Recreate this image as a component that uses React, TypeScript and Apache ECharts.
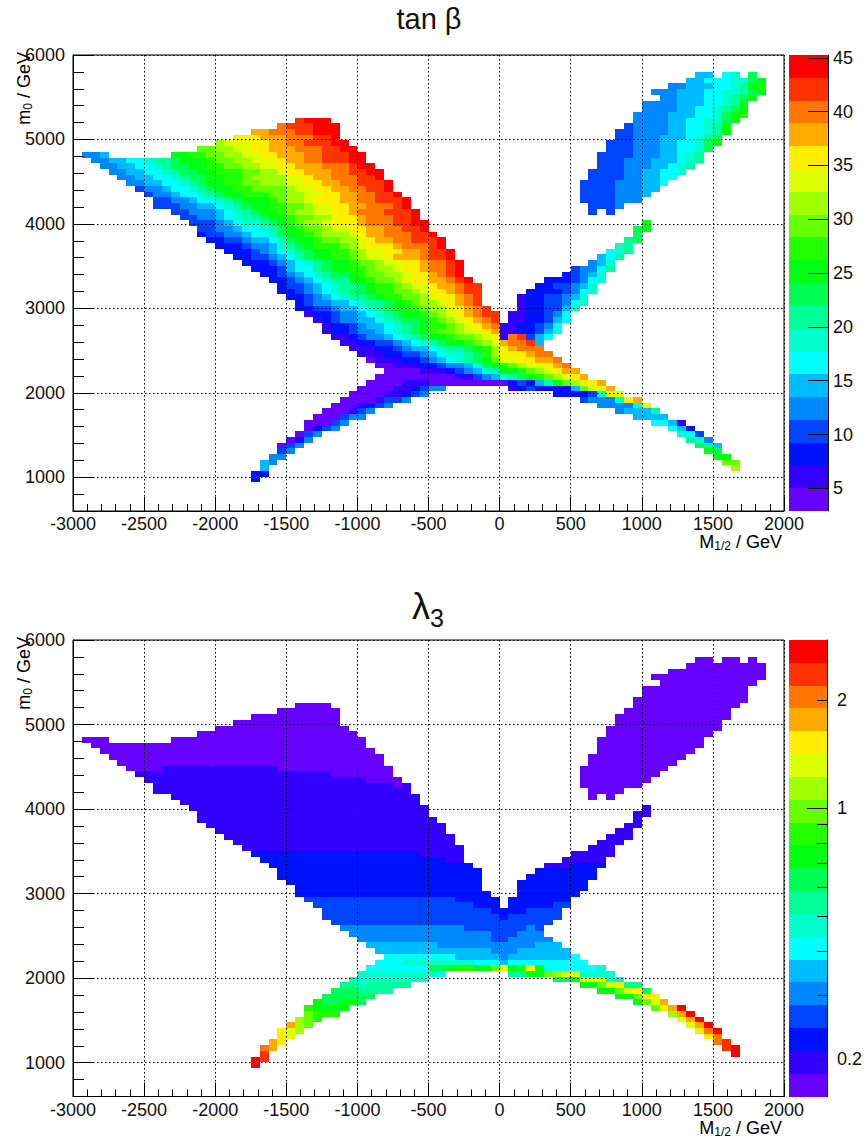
import React, { useEffect, useRef } from "react";
import * as echarts from "echarts";

// Bin layout of both 2D histograms
const X_MIN = -3000;
const X_MAX = 2000;
const Y_MIN = 600;
const Y_MAX = 6000;
const BIN_X = 62.5;
const BIN_Y = 67.5;

const xMajorStep = 500;
const yLabels = [1000, 2000, 3000, 4000, 5000, 6000];
const yMinor = [800, 1200, 1400, 1600, 1800, 2200, 2400, 2600, 2800, 3200, 3400, 3600, 3800, 4200, 4400, 4600, 4800, 5200, 5400, 5600, 5800];

// 20 colour levels, a (lowest) .. t (highest)
const palette = ["#6600ff", "#3300ff", "#0011ff", "#0044ff", "#0088ff", "#00bbff", "#00ffff", "#00ffcc", "#00ff99", "#00ff55", "#00ff11", "#22ff00", "#66ff00", "#a0ff00", "#ddff00", "#ffee00", "#ffaa00", "#ff7700", "#ff3300", "#ff0000"];

const tanBetaBarRange = [2.9, 45.26];
const tanBetaTicks = [5, 10, 15, 20, 25, 30, 35, 40, 45];
const lambdaBarRange = [0.157, 2.94];
const lambdaMinorTicks = [0.2, 0.3, 0.4, 0.5, 0.6, 0.7, 0.8, 0.9, 2];
const lambdaMajorTicks = [1];
const lambdaLabels = [0.2, 1, 2];

// Each entry: [row, first column, level letters with optional repeat counts]
type Row = [number, number, string];

const tanBetaUpperWing: Row[] = [
  [76, 70, "ff"], [76, 73, "gh"], [76, 76, "j"],
  [75, 69, "ffggghhjk"], [74, 67, "eefffgghikl"], [73, 65, "eeefffgghhijk"], [72, 66, "eefffgghijk"],
  [71, 64, "eeeefffgghik"], [70, 64, "eeeeffgghijk"], [69, 63, "eeeefffgghjkl"], [68, 63, "eeeeffgghhjk"],
  [67, 62, "deeeeffgghik"], [66, 61, "ddeeeeffgghik"], [65, 61, "ddeeefffghij"], [64, 60, "dddeeeffgghjk"],
  [63, 60, "dddeeeffgghj"], [62, 59, "ddddeeeffghi"], [61, 59, "dddeeefffghi"], [60, 59, "dddeeeffghi"],
  [59, 58, "ddddeeffggh"], [58, 58, "ddddeeffgg"], [57, 57, "ddddeeeffg"], [56, 57, "ddddeeeff"],
  [55, 57, "ddddeeef"], [54, 57, "ddddeee"], [53, 58, "ddde"], [52, 58, "d"], [52, 60, "d"],
];

const tanBetaMainWedge: Row[] = [
  [68, 25, "sttt"], [67, 23, "rsssttt"], [66, 20, "qqrrrssttt"], [65, 18, "pppqqqrrrsst"],
  [64, 16, "noooppqqrrssstt"], [63, 14, "mmnnooppqqqrrrsstt"],
  [62, 1, "eef"], [62, 11, "kkllmmnnooppqqqrrssstt"],
  [61, 2, "eeffgghiijkkklmmnnooppqqrrssstt"],
  [60, 3, "eeffgghijjkkllmmnnooppqqqrrrstt"],
  [59, 4, "eeffgghijjkklllmmnnoppqqqrrsstt"],
  [58, 5, "eeffgghijjkkllmnnnnoopqqrrrsst"],
  [57, 6, "eeffgghijkkllmmnnnooppqqrrssst"],
  [56, 7, "deefgghijkkllmmmmnooppqqrrsst"],
  [55, 8, "deefgghijkklllmmnnooppqqrrsst"],
  [54, 9, "ddeefgghijkkklmnnopppqqrrssst"],
  [53, 9, "dddeeffghijkkllmmnoopp qqrrrst"],
  [52, 11, "ddeeefghijkklmnnooppqrrrssst"],
  [51, 12, "ddeefghhijkklmmnnoppqrrrsst"],
  [50, 13, "dddefghhijklmnnopppqrrrsstt"],
  [49, 14, "ddeefgghijklmmnooppqqrrsst"],
  [48, 14, "cddeefgghjkklmnnnopqqrrrsst"],
  [47, 15, "ccddeffghjkklmmnnopqqrrssst"],
  [46, 16, "cccdeefhijklllmnopppqrrrst"],
  [45, 17, "cccdefghijkkllmnooppqqrsst"],
  [44, 18, "ccddefgijkkllmnoopqqqrsst"],
  [43, 19, "cccdefghijkklmmnooppqrrst"],
  [42, 20, "cccdfggijkkllmnnoppqrrst"],
  [41, 21, "ccdefghijjklmmnnoppqrst"],
  [40, 22, "ccdefghiikklmmnoppqqrst"],
  [39, 23, "cddefghiijkllmnoopqqrss"],
  [38, 23, "ccdefghijjkllmmnoppqrss"],
  [37, 24, "ccdefghiijkllmmnoppqrs"],
  [36, 25, "cdeeffghiijklmnnopqrs"],
  [35, 25, "ccddeffghijkklmnnopqrs"],
];

const tanBetaCentreWing: Row[] = [
  [50, 64, "k"], [49, 63, "jk"], [48, 63, "j"], [47, 62, "ij"], [46, 61, "hi"], [45, 60, "ghi"],
  [44, 59, "fgi"], [43, 58, "efh"], [42, 56, "deegi"], [41, 55, "cdefh"], [40, 53, "cccdegh"],
  [39, 52, "ccddefh"], [38, 51, "ccccdegh"], [37, 50, "bccddefh"], [36, 50, "bccddegh"], [35, 50, "bccddfh"],
  [34, 49, "bbccdeg"], [33, 49, "bbccdfg"],
];

const tanBetaLowerBody: Row[] = [
  [34, 26, "bccdeefghijkklmnopqrss"], [33, 27, "bcdeeffghijjklmnopqrs"],
  [32, 28, "bccdeffghijkllmnopqrbbccdeg"], [31, 28, "bccdeefghijklmmnoopqbbccdfh"],
  [30, 29, "bbcdeefghijkklmmnopbrsdfg"], [29, 30, "bbccddefghijkklmnoqrrsf"],
  [28, 31, "bbbccdeffghiijklnpqrrr"], [27, 32, "bbbccddefghhijlnpppqrr"],
  [26, 33, "abbbccdefghijkmoopp qqr"], [25, 34, "aabbbccdeefhjklmnoopqr"],
  [24, 35, "aaaabbbcdefhikklmnopqq"], [23, 34, "9abbdefhijklmnopq"],
  [22, 33, "aaaabbb9acdcfikmnppq"], [21, 32, "aaaabbcdee"], [21, 49, "bcdccccfmooq"],
  [20, 31, "aaaabbcde"], [20, 54, "ccccdhoo"], [19, 30, "aaaabdde"], [19, 57, "deeehpq"],
];

const tanBetaTails: Row[] = [
  [18, 29, "aaabcde"], [18, 59, "eeeehp"], [17, 28, "aaabde"], [17, 61, "efffi"],
  [16, 27, "aaadee"], [16, 63, "ffff"], [15, 26, "aaade"], [15, 65, "ggfb"],
  [14, 26, "acde"], [14, 67, "gfc"], [13, 25, "ade"], [13, 68, "hgd"],
  [12, 24, "ace"], [12, 69, "ihe"], [11, 23, "ade"], [11, 70, "jif"],
  [10, 23, "de"], [10, 71, "kj"], [9, 22, "ee"], [9, 72, "kk"],
  [8, 21, "fe"], [8, 73, "mm"], [7, 21, "f"], [7, 74, "n"], [6, 20, "cc"], [5, 20, "c"],
];

const lambdaUpperWing: Row[] = [
  [76, 70, "2a"], [76, 73, "2a"], [76, 76, "a"], [75, 69, "9a"], [74, 67, "11a"], [73, 65, "13a"],
  [72, 66, "11a"], [71, 64, "12a"], [70, 64, "12a"], [69, 63, "13a"], [68, 63, "12a"], [67, 62, "12a"],
  [66, 61, "13a"], [65, 61, "12a"], [64, 60, "13a"], [63, 60, "12a"], [62, 59, "12a"], [61, 59, "12a"],
  [60, 59, "11a"], [59, 58, "11a"], [58, 58, "10a"], [57, 57, "10a"], [56, 57, "9a"], [55, 57, "8a"],
  [54, 57, "7a"], [53, 58, "4a"], [52, 58, "a"], [52, 60, "a"],
];

const lambdaMainWedge: Row[] = [
  [68, 25, "4a"], [67, 23, "7a"], [66, 20, "10a"], [65, 18, "12a"], [64, 16, "15a"], [63, 14, "18a"],
  [62, 1, "3a"], [62, 11, "22a"], [61, 2, "31a"], [60, 3, "31a"], [59, 4, "31a"], [58, 5, "30a"],
  [57, 6, "4a13b13a"], [56, 7, "22b7a"], [55, 8, "25b4a"], [54, 9, "27bab"], [53, 9, "29b"],
  [52, 11, "28b"], [51, 12, "27b"], [50, 13, "27b"], [49, 14, "26b"], [48, 14, "27b"], [47, 15, "27b"],
  [46, 16, "26b"], [45, 17, "26b"], [44, 18, "25b"], [43, 19, "25b"], [42, 20, "19c5b"], [41, 21, "21c2b"],
  [40, 22, "23c"], [39, 23, "23c"], [38, 23, "23c"], [37, 24, "22c"], [36, 25, "21c"], [35, 25, "22c"],
];

const lambdaCentreWing: Row[] = [
  [50, 64, "b"], [49, 63, "2b"], [48, 63, "b"], [47, 62, "2b"], [46, 61, "2b"], [45, 60, "3b"],
  [44, 59, "3b"], [43, 58, "3b"], [42, 56, "5b"], [41, 55, "5b"], [40, 53, "3b4c"], [39, 52, "7c"],
  [38, 51, "8c"], [37, 50, "8c"], [36, 50, "8c"], [35, 50, "7c"], [34, 49, "7c"], [33, 49, "5c2d"],
];

const lambdaLowerBody: Row[] = [
  [34, 26, "17d5c"], [33, 27, "18d3c"], [32, 28, "19d4c4d"], [31, 28, "20dc6d"], [30, 29, "25d"],
  [29, 30, "14e7ded"], [28, 31, "16e3d3e"], [27, 32, "15e2d5e"], [26, 33, "8f11e3f"], [25, 34, "13f3e6f"],
  [24, 35, "8g5fe7fg"], [23, 34, "3g8h3gf9g"], [22, 33, "7gjjkllkkmoklpk6gh"], [21, 32, "9hg"], [21, 49, "2i2kmn2o4h"],
  [20, 31, "9h"], [20, 54, "2jk3o2h"], [19, 30, "2ih5i"], [19, 57, "2kmop2i"],
];

const lambdaTails: Row[] = [
  [18, 29, "3j4i"], [18, 59, "2kmopj"], [17, 28, "6j"], [17, 61, "2km2p"], [16, 27, "kjjkkj"], [16, 63, "kmoq"],
  [15, 26, "lkkkk"], [15, 65, "moqt"], [14, 26, "mlll"], [14, 67, "nqt"], [13, 25, "nml"], [13, 68, "oqt"],
  [12, 24, "qnm"], [12, 69, "oqt"], [11, 23, "pon"], [11, 70, "prt"], [10, 23, "po"], [10, 71, "pr"],
  [9, 22, "qp"], [9, 72, "rs"], [8, 21, "rq"], [8, 73, "st"], [7, 21, "s"], [7, 74, "t"], [6, 20, "ts"], [5, 20, "t"],
];

function cellsFrom(groups: Row[][]) {
  const cells: number[][] = [];
  for (const rows of groups) {
    for (const [row, first, code] of rows) {
      let col = first;
      for (const m of code.replace(/\s/g, "").matchAll(/(\d*)([a-t])/g)) {
        const n = m[1] ? Number(m[1]) : 1;
        for (let k = 0; k < n; k++) {
          cells.push([X_MIN + col * BIN_X, Y_MIN + row * BIN_Y, m[2].charCodeAt(0) - 97]);
          col++;
        }
      }
    }
  }
  return cells;
}

const FONT = "Liberation Sans";
const INK = "#111";

const renderCell = (_: any, api: any) => {
  const x0 = api.value(0);
  const y0 = api.value(1);
  const a = api.coord([x0, y0]);
  const b = api.coord([x0 + BIN_X, y0 + BIN_Y]);
  const left = Math.round(a[0]);
  const right = Math.round(b[0]);
  const top = Math.round(b[1]);
  const bottom = Math.round(a[1]);
  return { type: "rect", shape: { x: left, y: top, width: right - left, height: bottom - top }, style: { fill: palette[api.value(2)] } };
};

const renderBand = (_: any, api: any) => {
  const a = api.coord([0, api.value(0)]);
  const b = api.coord([1, api.value(1)]);
  const top = Math.round(b[1]);
  const bottom = Math.round(a[1]);
  return { type: "rect", shape: { x: a[0], y: top, width: b[0] - a[0], height: bottom - top }, style: { fill: palette[api.value(2)] } };
};

const label = { fontFamily: FONT, fontSize: 18, color: INK };
const dotted = { show: true, lineStyle: { color: "#000", width: 1, type: [1.5, 2.5] as any } };

function panelAxes(grid: number) {
  const x = {
    type: "value", gridIndex: grid, min: X_MIN, max: X_MAX, interval: xMajorStep, z: 3,
    axisLine: { show: true, onZero: false, lineStyle: { color: "#000", width: 1 } },
    axisTick: { show: true, inside: true, length: 14, lineStyle: { color: "#000" } },
    minorTick: { show: true, splitNumber: 5, length: 7, lineStyle: { color: "#000" } },
    axisLabel: { ...label, margin: 4, formatter: (v: number) => String(v) },
    splitLine: dotted, minorSplitLine: { show: false },
  };
  const y = {
    type: "value", gridIndex: grid, min: Y_MIN, max: Y_MAX, splitNumber: 5, z: 3, position: "left",
    axisLine: { show: true, onZero: false, lineStyle: { color: "#000", width: 1 } },
    axisTick: { show: true, inside: true, length: 20, customValues: yLabels, lineStyle: { color: "#000" } },
    axisLabel: { ...label, margin: 8, customValues: yLabels, formatter: (v: number) => String(v) },
    splitLine: dotted,
  };
  const yMinorAxis = {
    type: "value", gridIndex: grid, min: Y_MIN, max: Y_MAX, z: 3, position: "left",
    axisLine: { show: false, onZero: false }, axisLabel: { show: false }, splitLine: { show: false },
    axisTick: { show: true, inside: true, length: 11, customValues: yMinor, lineStyle: { color: "#000" } },
  };
  return { x, y, yMinorAxis };
}

const hiddenX = (grid: number) => ({ type: "value", gridIndex: grid, min: 0, max: 1, show: false });

const bandsFor = (lo: number, hi: number, log: boolean) =>
  palette.map((_, k) => {
    const edge = (t: number) => (log ? lo * Math.pow(hi / lo, t) : lo + (hi - lo) * t);
    return [edge(k / palette.length), edge((k + 1) / palette.length), k];
  });

export default function App() {
  const ref = useRef<HTMLDivElement>(null);
  useEffect(() => {
    const chart = echarts.init(ref.current!, undefined, { renderer: "svg" });
    const p1 = panelAxes(0);
    const p2 = panelAxes(2);
    const subRich = {
      m: { fontFamily: FONT, fontSize: 18, color: INK, lineHeight: 16 },
      s: { fontFamily: FONT, fontSize: 12, color: INK, lineHeight: 16, padding: [7, 0, 0, 0] },
    };
    const axisTitle = (y: number, x: number) => [
      { type: "text", x: 782, y: x, style: { text: "{m|M}{s|1/2}{m| / GeV}", rich: subRich, align: "right", verticalAlign: "middle" } },
      { type: "text", x: 24, y: y, rotation: Math.PI / 2, style: { text: "{m|m}{s|0}{m| / GeV}", rich: subRich, align: "right", verticalAlign: "middle" } },
    ];
    chart.setOption({
      animation: false,
      backgroundColor: "#fff",
      title: [
        { text: "tan β", left: 424, top: -1, textAlign: "center", textStyle: { fontFamily: FONT, fontSize: 29, fontWeight: "normal", color: INK } },
        {
          text: "{l|λ}{s|3}", left: 423, top: 578, textAlign: "center",
          textStyle: {
            rich: {
              l: { fontFamily: FONT, fontSize: 36, fontWeight: "normal", color: INK, lineHeight: 46 },
              s: { fontFamily: FONT, fontSize: 25, fontWeight: "normal", color: INK, lineHeight: 46, padding: [24, 0, 0, 0] },
            },
          },
        },
      ],
      grid: [
        { left: 73, top: 55, width: 711, height: 456, show: true, borderColor: "#000", borderWidth: 1, backgroundColor: "transparent" },
        { left: 789, top: 55, width: 39, height: 456 },
        { left: 73, top: 640, width: 711, height: 456.5, show: true, borderColor: "#000", borderWidth: 1, backgroundColor: "transparent" },
        { left: 789, top: 640, width: 39, height: 456.5 },
      ],
      xAxis: [p1.x, hiddenX(1), p2.x, hiddenX(3)],
      yAxis: [
        p1.y, p1.yMinorAxis,
        {
          type: "value", gridIndex: 1, min: tanBetaBarRange[0], max: tanBetaBarRange[1], position: "right", z: 3,
          axisLine: { show: true, onZero: false, lineStyle: { color: "#000" } },
          axisTick: { show: true, inside: true, length: 20, customValues: tanBetaTicks, lineStyle: { color: "#000" } },
          axisLabel: { ...label, margin: 5, customValues: tanBetaTicks, formatter: (v: number) => String(v) },
          splitLine: { show: false },
        },
        p2.y, p2.yMinorAxis,
        {
          type: "log", logBase: 10, gridIndex: 3, min: lambdaBarRange[0], max: lambdaBarRange[1], position: "right", z: 3,
          axisLine: { show: true, onZero: false, lineStyle: { color: "#000" } },
          axisTick: { show: true, inside: true, length: 10, customValues: lambdaMinorTicks, lineStyle: { color: "#000" } },
          axisLabel: { ...label, margin: 10, customValues: lambdaLabels, formatter: (v: number) => String(+Number(v).toPrecision(1)) },
          splitLine: { show: false },
        },
        {
          type: "log", logBase: 10, gridIndex: 3, min: lambdaBarRange[0], max: lambdaBarRange[1], position: "right", z: 3,
          axisLine: { show: false, onZero: false }, axisLabel: { show: false }, splitLine: { show: false },
          axisTick: { show: true, inside: true, length: 20, customValues: lambdaMajorTicks, lineStyle: { color: "#000" } },
        },
      ],
      series: [
        {
          name: "tan β", type: "custom", xAxisIndex: 0, yAxisIndex: 0, z: 1, silent: true, progressive: 0, renderItem: renderCell,
          encode: { x: 0, y: 1 }, clip: false,
          data: cellsFrom([tanBetaUpperWing, tanBetaMainWedge, tanBetaCentreWing, tanBetaLowerBody, tanBetaTails]),
        },
        {
          name: "tan β scale", type: "custom", xAxisIndex: 1, yAxisIndex: 2, z: 1, silent: true, renderItem: renderBand,
          encode: { y: [0, 1] }, data: bandsFor(tanBetaBarRange[0], tanBetaBarRange[1], false),
        },
        {
          name: "λ3", type: "custom", xAxisIndex: 2, yAxisIndex: 3, z: 1, silent: true, progressive: 0, renderItem: renderCell,
          encode: { x: 0, y: 1 }, clip: false,
          data: cellsFrom([lambdaUpperWing, lambdaMainWedge, lambdaCentreWing, lambdaLowerBody, lambdaTails]),
        },
        {
          name: "λ3 scale", type: "custom", xAxisIndex: 3, yAxisIndex: 5, z: 1, silent: true, renderItem: renderBand,
          encode: { y: [0, 1] }, data: bandsFor(lambdaBarRange[0], lambdaBarRange[1], true),
        },
      ],
      graphic: [...axisTitle(52, 542), ...axisTitle(637, 1128)],
    });
    return () => chart.dispose();
  }, []);
  return <div ref={ref} style={{ position: "absolute", left: 0, top: 0, width: 865, height: 1140 }} />;
}
